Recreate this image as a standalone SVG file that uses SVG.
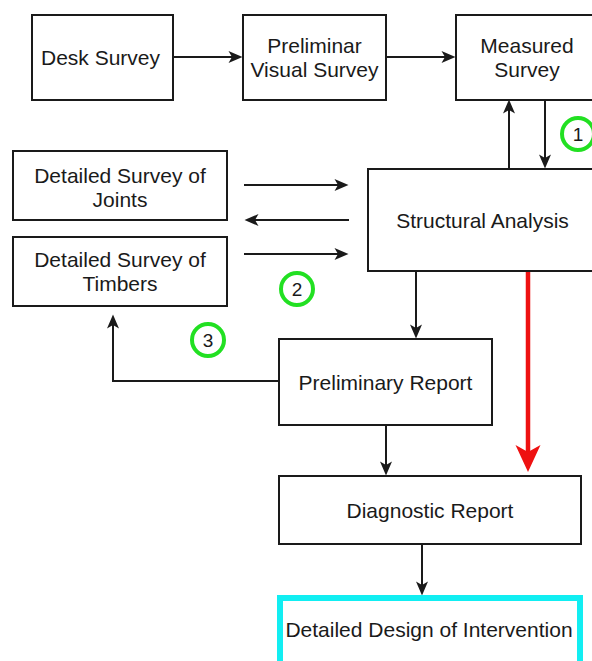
<svg xmlns="http://www.w3.org/2000/svg" width="592" height="661" viewBox="0 0 592 661">
<style>
.box{fill:#fff;stroke:#1a1a1a;stroke-width:2}
.t{font-family:"Liberation Sans",Arial,sans-serif;font-size:21px;fill:#1a1a1a;text-anchor:middle}
.c{fill:none;stroke:#22e022;stroke-width:4}
.n{font-family:"Liberation Sans",Arial,sans-serif;font-size:19px;fill:#1a1a1a;text-anchor:middle}
.e{fill:none;stroke:#1a1a1a;stroke-width:2;marker-end:url(#a)}
</style>
<defs>
<marker id="a" markerUnits="userSpaceOnUse" markerWidth="14" markerHeight="12" refX="3.5" refY="6" orient="auto" overflow="visible"><path d="M0,0 L14,6 L0,12 L3.5,6 z" fill="#1a1a1a"/></marker>
<marker id="r" markerUnits="userSpaceOnUse" markerWidth="27" markerHeight="25" refX="7" refY="12.5" orient="auto" overflow="visible"><path d="M0,0 L27,12.5 L0,25 L7,12.5 z" fill="#ee1111"/></marker>
</defs>
<rect width="592" height="661" fill="#fff"/>
<g id="connectors">
<path class="e" d="M173,57 H232"/>
<path class="e" d="M386,57 H445"/>
<path class="e" d="M509,169 V110"/>
<path class="e" d="M545,100 V158"/>
<path class="e" d="M244,185 H338"/>
<path class="e" d="M349,220 H255"/>
<path class="e" d="M244,254 H338"/>
<path class="e" d="M416,271 V328"/>
<path class="e" d="M278,381 H113 V325"/>
<path class="e" d="M386,425 V465"/>
<path d="M528,270 V452" fill="none" stroke="#ee1111" stroke-width="4.5" marker-end="url(#r)"/>
<path class="e" d="M422,544 V585"/>
</g>
<g id="desk"><rect class="box" x="32" y="15" width="141" height="85"/><text class="t" x="100.5" y="65">Desk Survey</text></g>
<g id="prelim-visual"><rect class="box" x="243" y="15" width="143" height="85"/><text class="t" x="314.5" y="53">Preliminar</text><text class="t" x="314.5" y="77">Visual Survey</text></g>
<g id="measured"><rect class="box" x="456" y="15" width="142" height="85"/><text class="t" x="527" y="53">Measured</text><text class="t" x="527" y="77">Survey</text></g>
<g id="joints"><rect class="box" x="13" y="151" width="214" height="69"/><text class="t" x="120" y="183">Detailed Survey of</text><text class="t" x="120" y="207">Joints</text></g>
<g id="timbers"><rect class="box" x="13" y="237" width="214" height="69"/><text class="t" x="120" y="267">Detailed Survey of</text><text class="t" x="120" y="291">Timbers</text></g>
<g id="structural"><rect class="box" x="368" y="169" width="230" height="102"/><text class="t" x="482.5" y="228">Structural Analysis</text></g>
<g id="prelim-report"><rect class="box" x="279" y="339" width="213" height="86"/><text class="t" x="385.5" y="390">Preliminary Report</text></g>
<g id="diagnostic"><rect class="box" x="279" y="476" width="302" height="68"/><text class="t" x="430" y="518">Diagnostic Report</text></g>
<g id="design"><rect x="280" y="598" width="300" height="80" fill="#fff" stroke="#11eef2" stroke-width="6"/><text class="t" x="429" y="637">Detailed Design of Intervention</text></g>
<g id="m1"><circle class="c" cx="578" cy="134" r="16"/><text class="n" x="578" y="141">1</text></g>
<g id="m2"><circle class="c" cx="297" cy="289" r="16"/><text class="n" x="297" y="296">2</text></g>
<g id="m3"><circle class="c" cx="208" cy="340" r="16"/><text class="n" x="208" y="347">3</text></g>
</svg>
